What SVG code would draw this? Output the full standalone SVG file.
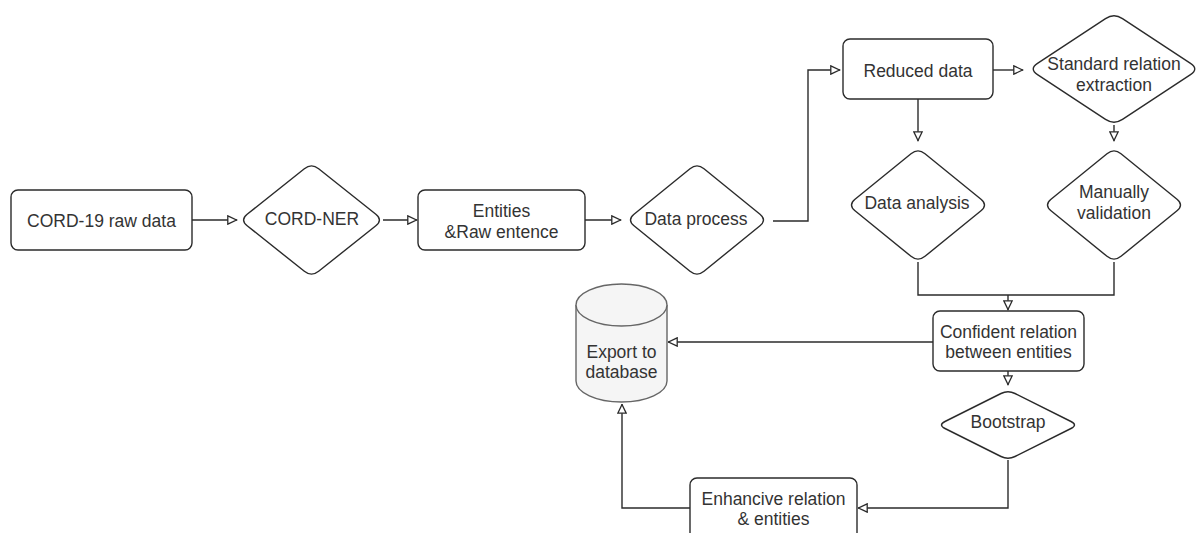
<svg xmlns="http://www.w3.org/2000/svg" width="1201" height="533" viewBox="0 0 1201 533">
  <style>
    .shape { fill: #ffffff; stroke: #2b2b2b; stroke-width: 1.4; }
    .db { fill: #f5f5f5; stroke: #666666; stroke-width: 1.4; }
    .lbl { font-family: "Liberation Sans", Arial, sans-serif; font-size: 17.5px; fill: #333333; text-anchor: middle; }
    .edge { fill: none; stroke: #2b2b2b; stroke-width: 1.4; }
    .arrow { marker-end: url(#open); }
  </style>
  <defs>
    <marker id="open" viewBox="0 0 10 10" refX="10" refY="5" markerWidth="11" markerHeight="10" markerUnits="userSpaceOnUse" orient="auto">
      <path d="M0.8,0.8 L9.5,5 L0.8,9.2 Z" fill="#ffffff" stroke="#2b2b2b" stroke-width="1.3"/>
    </marker>
  </defs>
  <rect width="1201" height="533" fill="#ffffff"/>

  <g id="connectors">
    <path class="edge arrow" d="M192,220 H237"/>
    <path class="edge arrow" d="M383,220 H417"/>
    <path class="edge arrow" d="M585,220 H621"/>
    <path class="edge arrow" d="M773,221 H808 V70 H840"/>
    <path class="edge arrow" d="M993,70 H1023"/>
    <path class="edge arrow" d="M918,99 V141"/>
    <path class="edge arrow" d="M1114,125 V141"/>
    <path class="edge" d="M918,262 V295 H1114 V262"/>
    <path class="edge arrow" d="M1008,295 V310"/>
    <path class="edge arrow" d="M933,342 H668"/>
    <path class="edge arrow" d="M1008,371 V385"/>
    <path class="edge arrow" d="M1008,460 V508 H858"/>
    <path class="edge arrow" d="M690,508 H622 V404"/>
  </g>

  <g id="cord19">
    <rect class="shape" x="11" y="190" width="181" height="60" rx="7"/>
    <text class="lbl" x="101.5" y="227">CORD-19 raw data</text>
  </g>

  <g id="cordner">
    <path class="shape" d="M247.15,214.3 L304.35,168.7 Q311.5,163 318.65,168.7 L375.85,214.3 Q383,220 375.85,225.7 L318.65,271.3 Q311.5,277 304.35,271.3 L247.15,225.7 Q240,220 247.15,214.3 Z"/>
    <text class="lbl" x="312" y="225">CORD-NER</text>
  </g>

  <g id="entities">
    <rect class="shape" x="418" y="190" width="167" height="60" rx="7"/>
    <text class="lbl" x="501.5" y="217">Entities</text>
    <text class="lbl" x="501.5" y="238">&amp;Raw entence</text>
  </g>

  <g id="dataprocess">
    <path class="shape" d="M634,214.3 L690,168.7 Q697,163 704,168.7 L760,214.3 Q767,220 760,225.7 L704,271.3 Q697,277 690,271.3 L634,225.7 Q627,220 634,214.3 Z"/>
    <text class="lbl" x="696" y="225">Data process</text>
  </g>

  <g id="reduced">
    <rect class="shape" x="843" y="39" width="150" height="60" rx="7"/>
    <text class="lbl" x="918" y="77">Reduced data</text>
  </g>

  <g id="standard">
    <path class="shape" d="M1037.5,63.4 L1105.5,18.6 Q1114,13 1122.5,18.6 L1190.5,63.4 Q1199,69 1190.5,74.6 L1122.5,119.4 Q1114,125 1105.5,119.4 L1037.5,74.6 Q1029,69 1037.5,63.4 Z"/>
    <text class="lbl" x="1114" y="70">Standard relation</text>
    <text class="lbl" x="1114" y="91">extraction</text>
  </g>

  <g id="analysis">
    <path class="shape" d="M855,199.3 L911,153.7 Q918,148 925,153.7 L981,199.3 Q988,205 981,210.7 L925,256.3 Q918,262 911,256.3 L855,210.7 Q848,205 855,199.3 Z"/>
    <text class="lbl" x="917" y="209">Data analysis</text>
  </g>

  <g id="manual">
    <path class="shape" d="M1051,199.3 L1107,153.7 Q1114,148 1121,153.7 L1177,199.3 Q1184,205 1177,210.7 L1121,256.3 Q1114,262 1107,256.3 L1051,210.7 Q1044,205 1051,199.3 Z"/>
    <text class="lbl" x="1114" y="198">Manually</text>
    <text class="lbl" x="1114" y="219">validation</text>
  </g>

  <g id="confident">
    <rect class="shape" x="933" y="311" width="151" height="60" rx="7"/>
    <text class="lbl" x="1008.5" y="338">Confident relation</text>
    <text class="lbl" x="1008.5" y="358">between entities</text>
  </g>

  <g id="bootstrap">
    <path class="shape" d="M945,421.5 L1001,393.5 Q1008,390 1015,393.5 L1071,421.5 Q1078,425 1071,428.5 L1015,456.5 Q1008,460 1001,456.5 L945,428.5 Q938,425 945,421.5 Z"/>
    <text class="lbl" x="1008" y="428">Bootstrap</text>
  </g>

  <g id="enhancive">
    <rect class="shape" x="690" y="478" width="167" height="64" rx="7"/>
    <text class="lbl" x="773.5" y="505">Enhancive relation</text>
    <text class="lbl" x="773.5" y="525">&amp; entities</text>
  </g>

  <g id="database">
    <path class="db" d="M576,305 A45.5,21 0 0 1 667,305 V381 A45.5,21 0 0 1 576,381 Z"/>
    <path class="db" fill="none" d="M576,305 A45.5,21 0 0 0 667,305"/>
    <text class="lbl" x="621.5" y="358">Export to</text>
    <text class="lbl" x="621.5" y="378">database</text>
  </g>
</svg>
